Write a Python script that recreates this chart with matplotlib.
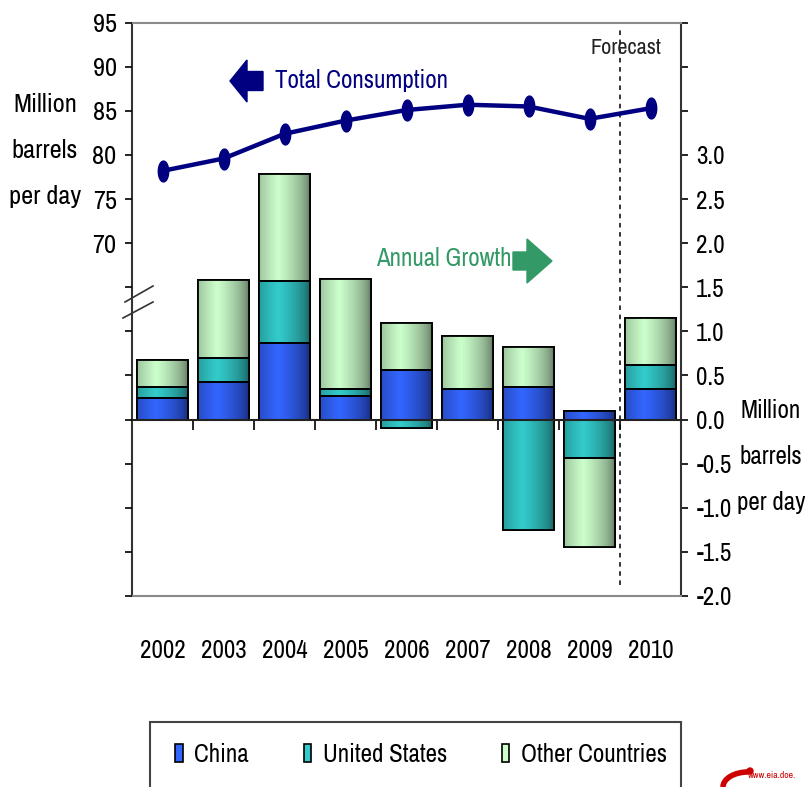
import numpy as np
import matplotlib.pyplot as plt
from matplotlib.patches import FancyArrow, Rectangle, Arc, Circle
from matplotlib.colors import LinearSegmentedColormap

plt.rcParams['font.family'] = ['Archivo Narrow', 'Liberation Sans', 'DejaVu Sans']

# Данные
years = ['2002', '2003', '2004', '2005', '2006', '2007', '2008', '2009', '2010']
consumption = [78.2, 79.6, 82.4, 83.9, 85.1, 85.7, 85.5, 84.1, 85.3]   # левая шкала
china = [0.25, 0.43, 0.87, 0.27, 0.56, 0.35, 0.37, 0.10, 0.35]
united_states = [0.12, 0.27, 0.70, 0.08, -0.10, 0.0, -1.25, -0.43, 0.27]
other = [0.31, 0.88, 1.21, 1.24, 0.54, 0.60, 0.45, -1.02, 0.53]

series = [
    ('China', china, '#3366FF', '#16266E'),
    ('United States', united_states, '#33CCCC', '#175858'),
    ('Other Countries', other, '#CCFFCC', '#5A6E5A'),
]

FS = 19
W, H = 805, 787
fig = plt.figure(figsize=(W / 100, H / 100), dpi=100)

# область графика (в пикселях)
x0, x1, y_top, y_bot = 132, 681, 22.7, 596
ax = fig.add_axes([x0 / W, 1 - y_bot / H, (x1 - x0) / W, (y_bot - y_top) / H])
axc = ax.twinx()

x = np.arange(len(years))
pos_base = np.zeros(len(years))
neg_base = np.zeros(len(years))

# градиент "цилиндр"
t = np.linspace(0, 1, 200)
mix = np.clip(1 - np.abs(t - 0.38) / 0.62, 0, 1) ** 0.55
handles = []
for name, vals, c_mid, c_edge in series:
    vals = np.array(vals)
    bottoms = np.where(vals >= 0, pos_base, neg_base)
    bars = ax.bar(x, vals, width=0.83, bottom=bottoms, color=c_mid,
                  edgecolor='black', linewidth=1.3, zorder=3)
    cmap = LinearSegmentedColormap.from_list(name, [c_edge, c_mid])
    for p in bars.patches:
        bx, by, bw, bh = p.get_x(), p.get_y(), p.get_width(), p.get_height()
        im = ax.imshow(mix[None, :], cmap=cmap, vmin=0, vmax=1, aspect='auto',
                       extent=(bx, bx + bw, by, by + bh), interpolation='bilinear',
                       zorder=3.5)
        im.set_clip_path(p)
    ax.bar(x, vals, width=0.83, bottom=bottoms, fill=False,
           edgecolor='black', linewidth=1.3, zorder=4)
    pos_base += np.clip(vals, 0, None)
    neg_base += np.clip(vals, None, 0)
    handles.append(Rectangle((0, 0), 1, 1, facecolor=c_mid, edgecolor='black', linewidth=1.2))

ax.set_xlim(-0.5, 8.5)
ax.set_ylim(-2, 4.5)

# правая шкала (прирост)
ax.yaxis.tick_right()
rticks = np.arange(-2, 4.51, 0.5)
ax.set_yticks(rticks)
ax.set_yticklabels([f'{v:.1f}' if v <= 3.0 else '' for v in rticks])
ax.tick_params(axis='y', direction='out', length=5, width=1.2, pad=6, labelsize=18)

# годы снизу
ax.set_xticks(x)
ax.set_xticklabels(years)
ax.tick_params(axis='x', length=0, pad=31, labelsize=18)

for s in ['top', 'bottom']:
    ax.spines[s].set_color('#8a8a8a')
    ax.spines[s].set_linewidth(1.5)
for s in ['left', 'right']:
    ax.spines[s].set_color('#333333')
    ax.spines[s].set_linewidth(1.5)

# нулевая линия с делениями между годами
sec = ax.secondary_xaxis(2 / 6.5)
sec.set_xticks(np.arange(0.5, 8, 1))
sec.tick_params(direction='out', length=7, width=1.2, labelbottom=False, labeltop=False)
for s in sec.spines.values():
    s.set_color('#222222')
    s.set_linewidth(1.5)
sec.set_zorder(6)

# линия прогноза
ax.axvline(7.5, ymin=0.02, ymax=0.99, color='black', lw=1.1, ls=(0, (3, 3)), zorder=2)

# левая шкала (потребление)
axc.set_ylim(30, 95)
axc.yaxis.tick_left()
lticks = np.arange(30, 96, 5)
axc.set_yticks(lticks)
axc.set_yticklabels([str(v) if v >= 70 else '' for v in lticks])
axc.tick_params(axis='y', direction='out', length=5, width=1.2, pad=6, labelsize=FS)
for s in axc.spines.values():
    s.set_visible(False)

# маркер — вытянутый эллипс
th = np.linspace(0, 2 * np.pi, 40)
ellipse = np.column_stack([0.5 * np.cos(th), np.sin(th)])
axc.plot(x, consumption, color='#000080', lw=3.2, marker=ellipse, ms=15, zorder=5)

# разрыв оси
for (xa, ya, xb, yb) in [(125, 302, 153, 286), (123, 318, 153, 302)]:
    axc.plot([(xa - x0) / (x1 - x0), (xb - x0) / (x1 - x0)],
             [(y_bot - ya) / (y_bot - y_top), (y_bot - yb) / (y_bot - y_top)],
             transform=axc.transAxes, color='#333333', lw=1.2, clip_on=False)

# подписи осей
for i, line in enumerate(['Million', 'barrels', 'per day']):
    fig.text(45 / W, 1 - (105 + 45.5 * i) / H, line, ha='center', va='center', fontsize=FS)
    fig.text(771 / W, 1 - (411 + 46 * i) / H, line, ha='center', va='center', fontsize=18)

# аннотации
fig.text(626 / W, 1 - 48 / H, 'Forecast', ha='center', va='center', fontsize=16, color='#222222')
fig.text(275 / W, 1 - 80 / H, 'Total Consumption', ha='left', va='center',
         fontsize=18, color='#000080')
fig.text(376 / W, 1 - 259 / H, 'Annual Growth', ha='left', va='center',
         fontsize=18, color='#339966')
fig.add_artist(FancyArrow(2.63, (H - 81) / 100, -0.33, 0, width=0.19, head_width=0.42,
                          head_length=0.17, length_includes_head=True,
                          color='#000080', transform=fig.dpi_scale_trans))
fig.add_artist(FancyArrow(5.13, (H - 261) / 100, 0.39, 0, width=0.18, head_width=0.44,
                          head_length=0.25, length_includes_head=True,
                          color='#339966', transform=fig.dpi_scale_trans))

# легенда
fig.add_artist(Rectangle((150 / W, -0.05), (681 - 150) / W, 0.05 + 1 - 722 / H,
                         transform=fig.transFigure, fill=False,
                         edgecolor='#444444', linewidth=1.5))
fig.legend(handles, [s[0] for s in series], loc='center',
           bbox_to_anchor=(421 / W, 1 - 754 / H), ncol=3, frameon=False,
           fontsize=18, handlelength=0.3, handleheight=0.75, handletextpad=0.45,
           columnspacing=2.2)

# логотип
fig.add_artist(Arc((7.48, 0.0), 0.5, 0.3, theta1=90, theta2=180, lw=4,
                   color='#cc0000', transform=fig.dpi_scale_trans))
fig.add_artist(Circle((7.5, 0.16), 0.03, color='#cc0000', transform=fig.dpi_scale_trans))
fig.text(748 / W, 1 - 776 / H, 'www.eia.doe.', ha='left', va='center',
         fontsize=7, color='#cc0000')

fig.savefig('out.png', dpi=100)
